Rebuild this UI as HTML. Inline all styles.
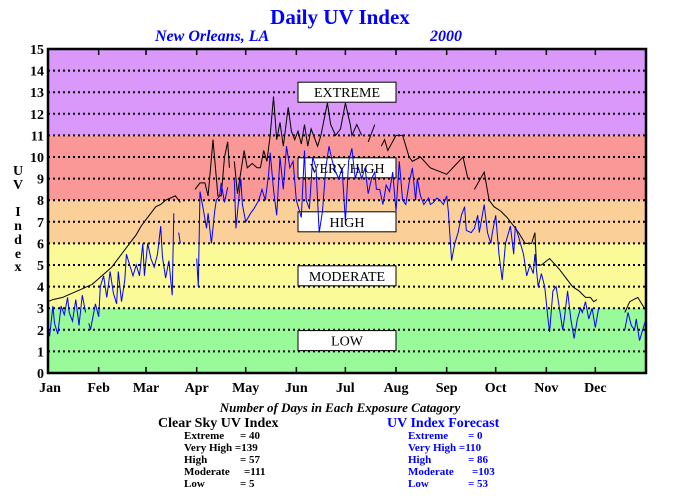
<!DOCTYPE html>
<html><head><meta charset="utf-8"><style>
body{margin:0;background:#fff;width:680px;height:500px;overflow:hidden;font-family:"Liberation Serif",serif}
svg{position:absolute;left:0;top:0}
text{font-family:"Liberation Serif",serif}
</style></head><body>
<svg id="chart" width="680" height="500">
<text x="340" y="24" text-anchor="middle" font-size="21" font-weight="bold" fill="#0000ff">Daily UV Index</text>
<text x="155" y="41" font-size="16" font-weight="bold" font-style="italic" fill="#0000ff">New Orleans, LA</text>
<text x="430" y="41" font-size="16" font-weight="bold" font-style="italic" fill="#0000ff">2000</text>
<g id="bands"></g>
<g id="grid"></g>
<g id="boxes"></g>
<g id="series"></g>
<g id="axes"></g>
<g font-size="14" font-weight="bold" text-anchor="middle">
<text x="18" y="175">U</text><text x="18" y="189">V</text><text x="18" y="216">I</text><text x="18" y="230">n</text><text x="18" y="244">d</text><text x="18" y="258">e</text><text x="18" y="271">x</text>
</g>
<text x="340" y="412" text-anchor="middle" font-size="13" font-weight="bold" font-style="italic">Number of Days in Each Exposure Catagory</text>
<text x="158" y="427" font-size="14" font-weight="bold">Clear Sky UV Index</text>
<text x="387" y="427" font-size="14" font-weight="bold" fill="#0000ff">UV Index Forecast</text>
<g font-size="11" font-weight="bold">
<text x="184" y="439">Extreme</text><text x="240" y="439">=  40</text>
<text x="184" y="451">Very High =139</text>
<text x="184" y="463">High</text><text x="240" y="463">=  57</text>
<text x="184" y="475">Moderate</text><text x="244" y="475">=111</text>
<text x="184" y="487">Low</text><text x="240" y="487">=    5</text>
</g>
<g font-size="11" font-weight="bold" fill="#0000ff">
<text x="408" y="439">Extreme</text><text x="468" y="439">=    0</text>
<text x="408" y="451">Very High =110</text>
<text x="408" y="463">High</text><text x="468" y="463">=  86</text>
<text x="408" y="475">Moderate</text><text x="472" y="475">=103</text>
<text x="408" y="487">Low</text><text x="468" y="487">=  53</text>
</g>
</svg>
<script>
const months=["Jan","Feb","Mar","Apr","May","Jun","Jul","Aug","Sep","Oct","Nov","Dec"];
const monthStart=[0,31,60,91,121,152,182,213,244,274,305,335];
const bandLimits=[0,3,6,8,11,15];
const bandNames=["LOW","MODERATE","HIGH","VERY HIGH","EXTREME"];
const bandColors=["#98fa98","#fafa98","#facf98","#fa9898","#da98fa"];
const yTicks=[0,1,2,3,4,5,6,7,8,9,10,11,12,13,14,15];
const csDays=[0,3,6,9,12,15,18,21,24,27,30,33,36,39,42,45,48,51,54,57,60,63,66,69,72,75,78,80,81,85,90,93,96,98,101,104,106,108,110,111,112,114,116,120,122,125,128,130,132,134,136,138,140,142,144,147,149,151,153,155,157,159,161,165,167,171,173,176,179,182,185,186,189,192,194,196,200,202,204,206,208,213,217,221,223,228,234,244,249,254,257,259,261,267,270,273,277,281,285,288,292,296,298,299,302,307,313,316,321,325,329,332,334,336,345,353,356,361,365];
const csVals=[3.3,3.4,3.45,3.5,3.6,3.7,3.8,3.9,4.0,4.1,4.3,4.5,4.7,4.9,5.2,5.5,5.8,6.1,6.4,6.8,7.1,7.4,7.7,7.8,8.0,8.1,8.2,8.0,7.9,null,8.5,8.8,8.8,8.2,10.8,8.2,8.2,10.0,10.7,9.5,null,9.8,8.3,10.3,9.5,9.7,9.5,9.5,10.3,9.8,11.0,12.8,10.8,11.6,10.5,12.3,11.2,10.8,11.2,10.6,11.5,10.5,11.3,10.5,11.0,12.5,11.5,11.0,11.3,12.5,11.5,11.0,11.5,11.0,null,10.7,11.5,null,10.5,10.8,10.3,11.0,11.0,10.0,9.8,10.0,9.5,9.2,9.6,10.0,9.0,null,8.5,9.3,8.0,7.7,7.5,7.2,6.8,6.5,6.0,6.0,6.5,5.0,5.0,5.3,4.8,4.5,4.0,3.8,3.5,3.5,3.3,3.4,null,2.8,3.3,3.5,3.0];
const fcDays=[0,1,3,4,6,8,10,12,13,15,17,19,21,23,24,25,26,29,31,32,34,36,38,40,42,43,45,47,48,50,52,54,56,58,59,61,63,65,67,69,70,72,74,76,77,78,80,81,86,91,92,93,95,97,98,100,102,103,105,106,108,110,112,114,115,118,119,121,124,126,129,131,133,135,136,138,140,142,144,146,148,150,152,155,157,158,160,162,164,166,168,170,172,174,176,178,180,182,184,186,188,190,192,194,196,198,200,201,203,205,207,209,211,213,215,217,219,221,223,225,226,228,230,233,234,236,238,240,242,244,245,247,249,251,253,255,256,259,261,263,264,267,269,271,272,274,276,278,280,283,285,286,288,291,293,295,297,298,300,302,304,306,307,309,311,313,315,316,318,320,322,324,326,327,329,331,333,335,337,345,353,355,357,359,360,362,364,366];
const fcVals=[2.1,1.7,3.1,2.3,1.8,3.1,2.7,3.5,2.8,2.4,3.4,2.2,3.6,2.8,null,2.3,2.0,3.2,2.6,4.0,4.5,3.5,4.7,3.7,3.2,4.7,3.3,4.3,5.5,5.0,4.5,5.0,4.5,6.0,4.5,6.0,5.3,4.9,5.5,6.8,5.4,4.4,5.2,3.6,7.4,null,6.5,6.0,null,5.3,4.0,8.4,7.6,6.7,7.4,6.0,7.5,8.0,8.2,8.8,7.9,8.6,null,9.0,6.7,9.0,7.8,7.0,7.4,7.6,8.0,8.5,8.0,9.2,10.2,8.5,7.3,10.0,8.5,10.5,9.5,9.8,8.0,7.2,10.3,8.0,7.6,10.0,9.5,6.5,7.5,9.5,10.5,9.8,9.3,9.0,9.5,7.0,9.8,10.4,9.0,9.5,9.0,9.5,8.3,9.0,9.3,8.5,8.5,7.8,8.7,8.4,9.3,7.5,9.8,8.0,7.8,8.8,9.5,8.0,9.0,8.2,7.8,8.1,7.8,7.9,8.1,8.0,7.8,8.2,7.5,5.2,6.0,6.5,7.3,7.7,6.6,6.5,6.7,7.3,6.5,7.8,6.5,6.0,6.5,7.3,5.5,4.3,6.0,6.8,5.5,6.8,6.3,5.5,4.5,5.0,4.6,5.5,4.0,4.6,4.0,2.5,1.9,3.8,4.0,3.0,2.0,2.5,3.8,2.5,1.6,2.5,3.0,2.8,3.3,2.5,3.0,2.1,3.0,null,2.0,2.8,2.2,2.0,2.5,1.5,2.0,2.5];

const L=48,R=646,T=49,B=373,DAYS=366;
const x=d=>L+d*(R-L)/DAYS;
const y=v=>B-v*(B-T)/15;
const NS="http://www.w3.org/2000/svg";
function mk(tag,parent){const e=document.createElementNS(NS,tag);document.getElementById(parent).appendChild(e);return e;}

for(let i=0;i<bandNames.length;i++){
  const r=mk('rect','bands');
  
  
  r.setAttribute('x',L);r.setAttribute('width',R-L);
  r.setAttribute('y',y(bandLimits[i+1]));r.setAttribute('height',y(bandLimits[i])-y(bandLimits[i+1]));
  r.setAttribute('fill',bandColors[i]);
}
yTicks.forEach(t=>{
  if(t>0&&t<15){
    const g=mk('line','grid');
    
    
    g.setAttribute('x1',L);g.setAttribute('x2',R);g.setAttribute('y1',y(t));g.setAttribute('y2',y(t));
    g.setAttribute('stroke','#000');g.setAttribute('stroke-width','2');g.setAttribute('stroke-dasharray','2 3');
  }
  const tl=mk('text','axes');
  
  
  tl.setAttribute('x',44);tl.setAttribute('y',y(t)+5);tl.setAttribute('text-anchor','end');
  tl.setAttribute('font-size','14');tl.setAttribute('font-weight','bold');tl.textContent=t;
});
const boxY=[1.5,4.5,7,9.5,13];
bandNames.forEach((n,i)=>{
  const r=mk('rect','boxes');
  
  
  r.setAttribute('x',298);r.setAttribute('width',98);r.setAttribute('y',y(boxY[i])-10);r.setAttribute('height',20);
  r.setAttribute('fill','#fff');r.setAttribute('stroke','#000');
  const t=mk('text','boxes');
  
  
  t.setAttribute('x',347);t.setAttribute('y',y(boxY[i])+5);t.setAttribute('text-anchor','middle');t.setAttribute('font-size','14');
  t.textContent=n;
});
function path(days,vals){let d='',pen=false;for(let i=0;i<days.length;i++){if(vals[i]===null){pen=false;continue;}d+=(pen?'L':'M')+x(days[i]).toFixed(1)+','+y(vals[i]).toFixed(1);pen=true;}return d;}
const pc=mk('path','series');


pc.setAttribute('d',path(csDays,csVals));pc.setAttribute('fill','none');pc.setAttribute('stroke','#000');pc.setAttribute('stroke-width','1');
const pf=mk('path','series');


pf.setAttribute('d',path(fcDays,fcVals));pf.setAttribute('fill','none');pf.setAttribute('stroke','#0000ff');pf.setAttribute('stroke-width','1');
const fr=mk('rect','axes');


fr.setAttribute('x',L);fr.setAttribute('y',T);fr.setAttribute('width',R-L);fr.setAttribute('height',B-T);
fr.setAttribute('fill','none');fr.setAttribute('stroke','#000');fr.setAttribute('stroke-width','2.5');
months.forEach((m,i)=>{
  const xx=x(monthStart[i]);
  if(i>0){[[B,B-6],[T,T+6]].forEach(p=>{const tk=mk('line','axes');
    
    
    tk.setAttribute('x1',xx);tk.setAttribute('x2',xx);tk.setAttribute('y1',p[0]);tk.setAttribute('y2',p[1]);tk.setAttribute('stroke','#000');tk.setAttribute('stroke-width','1.5');});}
  const t=mk('text','axes');
  
  
  t.setAttribute('x',xx+(i==0?2:0));t.setAttribute('y',392);t.setAttribute('text-anchor','middle');t.setAttribute('font-size','14');t.setAttribute('font-weight','bold');
  t.textContent=m;
});
</script>
</body></html>
